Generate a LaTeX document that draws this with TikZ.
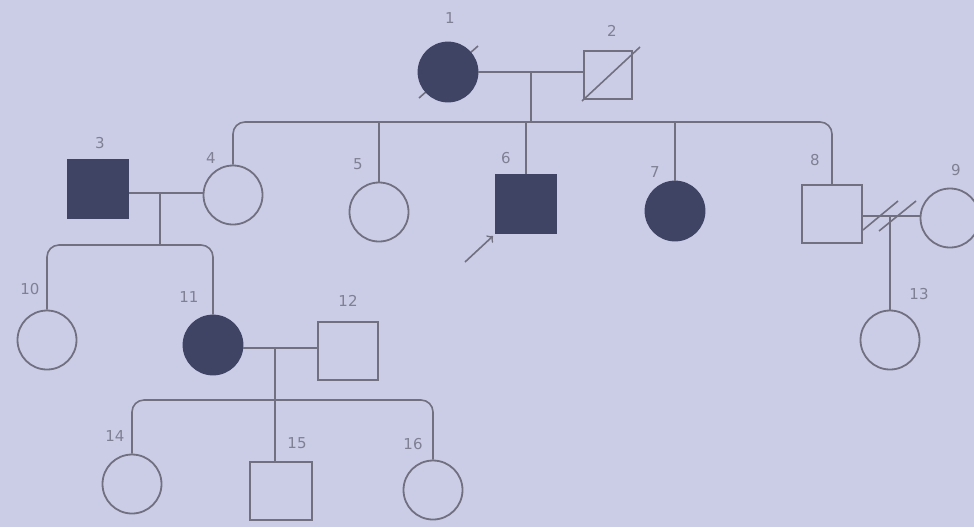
\documentclass[tikz,border=0pt]{standalone}
\usepackage{fontspec}
\setsansfont{DejaVu Sans}
\usetikzlibrary{positioning}
\definecolor{paper}{RGB}{203,205,231}
\definecolor{ink}{RGB}{112,112,128}
\definecolor{shade}{RGB}{64,68,100}
\definecolor{numc}{RGB}{128,128,148}
\tikzset{
  female/.style={circle,draw=ink,line width=0.9pt,minimum size=29.5pt,inner sep=0pt},
  male/.style={rectangle,draw=ink,line width=0.9pt,minimum width=30pt,minimum height=29pt,inner sep=0pt},
  sick/.style={fill=shade,draw=shade},
  num/.style={text=numc,font=\sffamily\fontsize{7.5}{8}\selectfont,inner sep=0pt},
  link/.style={ink,line width=0.8pt},
}
\begin{document}
\begin{tikzpicture}[x=0.5pt,y=-0.5pt]
      \fill[paper] (0,0) rectangle (974,527);
      \useasboundingbox (0,0) rectangle (974,527);
      % generation I
      \draw[link] (419,98) -- (478,46);
      \node[female,sick] (i1) at (448,72) {};
      \node[male,minimum width=24pt,minimum height=24pt] (i2) at (608,75) {};
      \node[num] (l1) at (450,18) {1};
      \node[num] (l2) at (612,31) {2};
      \draw[link] (582,101) -- (640,47);
      \coordinate (m12) at (531,72);
      \coordinate (c12) at (531,122);
      \draw[link] (i1.east) -- (i2.west |- m12);
      \draw[link] (m12) -- (c12);
      % generation II
      \node[male,sick] (i3) at (98,189) {};
      \node[female] (i4) at (233,195) {};
      \node[female] (i5) at (379,212) {};
      \node[male,sick] (i6) at (526,204) {};
      \node[female,sick] (i7) at (675,211) {};
      \node[male] (i8) at (832,214) {};
      \node[female] (i9) at (950,218) {};
      \node[num] (l3) at (100,143) {3};
      \node[num] (l4) at (211,158) {4};
      \node[num] (l5) at (358,164) {5};
      \node[num] (l6) at (506,158) {6};
      \node[num] (l7) at (655,172) {7};
      \node[num] (l8) at (815,160) {8};
      \node[num] (l9) at (956,170) {9};
      \draw[link,rounded corners=6pt] (i4.north) |- (c12) -| (i8.north);
      \draw[link] (i5.north) -- (i5.north |- c12);
      \draw[link] (i6.north) -- (i6.north |- c12);
      \draw[link] (i7.north) -- (i7.north |- c12);
      \draw[link,->] (465,262) -- (493,236);
      % \node[num] at (470,275) {P};
      \coordinate (m34) at (160,193);
      \coordinate (c34) at (160,245);
      \draw[link] (i3.east |- m34) -- (i4.west |- m34);
      \draw[link] (m34) -- (c34);
      \coordinate (m89) at (890,216);
      \draw[link] (i8.east |- m89) -- (i9.west |- m89);
      \draw[link] (863,230) -- (898,201);
      \draw[link] (879,231) -- (916,201);
      % generation III
      \node[female] (i10) at (47,340) {};
      \node[female,sick] (i11) at (213,345) {};
      \node[male] (i12) at (348,351) {};
      \node[female] (i13) at (890,340) {};
      \node[num] (l10) at (30,289) {10};
      \node[num] (l11) at (189,297) {11};
      \node[num] (l12) at (348,301) {12};
      \node[num] (l13) at (919,294) {13};
      \draw[link,rounded corners=6pt] (i10.north) |- (c34) -| (i11.north);
      \draw[link] (m89) -- (i13.north);
      \coordinate (m1112) at (275,348);
      \coordinate (c1112) at (275,400);
      \draw[link] (i11.east |- m1112) -- (i12.west |- m1112);
      \draw[link] (m1112) -- (c1112);
      % generation IV
      \node[female] (i14) at (132,484) {};
      \node[male,minimum width=31pt] (i15) at (281,491) {};
      \node[female] (i16) at (433,490) {};
      \node[num] (l14) at (115,436) {14};
      \node[num] (l15) at (297,443) {15};
      \node[num] (l16) at (413,444) {16};
      \draw[link,rounded corners=6pt] (i14.north) |- (c1112) -| (i16.north);
      \draw[link] (c1112) -- (c1112 |- i15.north);
    \end{tikzpicture}
\end{document}
